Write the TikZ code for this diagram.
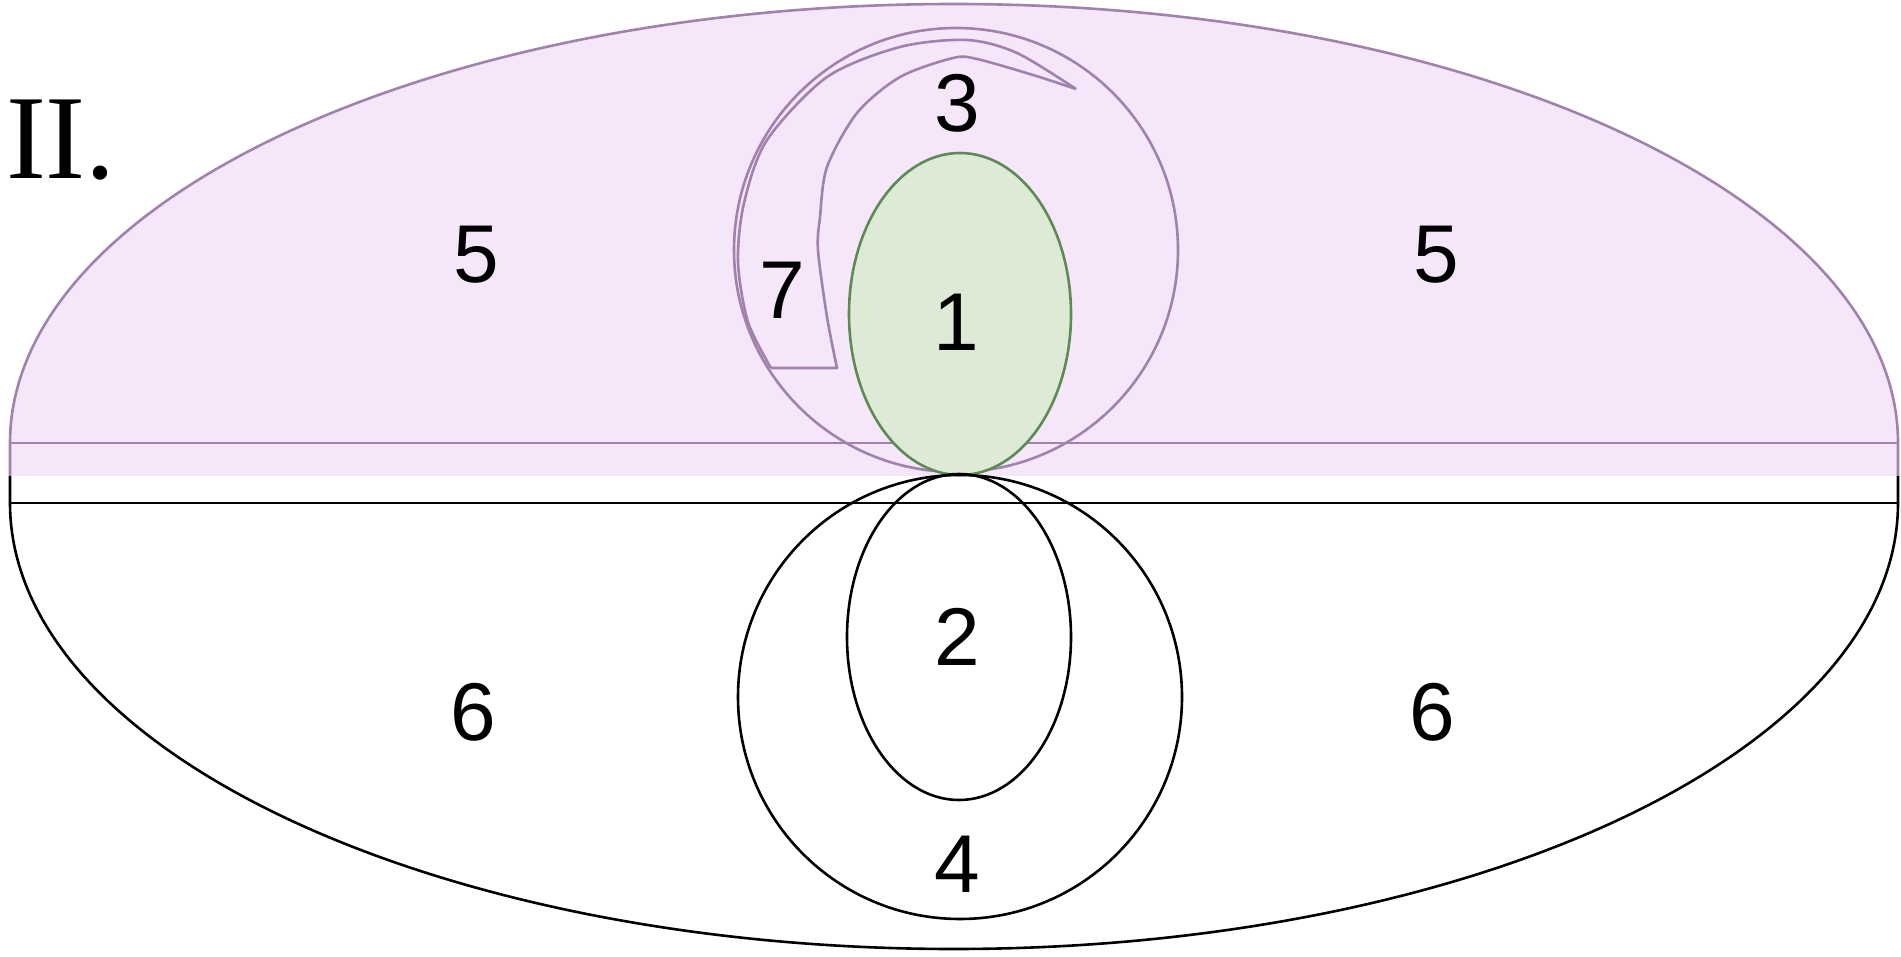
\documentclass[tikz,border=0pt]{standalone}
\usepackage{fontspec}
\setmainfont{Liberation Sans}
\newfontfamily\serifroman{Liberation Serif}
\definecolor{pfill}{HTML}{F5E6FA}
\definecolor{pline}{HTML}{A082AC}
\definecolor{gfill}{HTML}{DCEAD6}
\definecolor{gline}{HTML}{5F8A55}
\begin{document}
\begin{tikzpicture}[x=1pt,y=-1pt,
  lab/.style={font=\fontsize{82}{82}\selectfont, inner sep=0pt},
  pl/.style={draw=pline, line width=2.6pt},
  bl/.style={draw=black, line width=2.6pt}]
\useasboundingbox (0,0) rectangle (1901,957);
% upper purple half
\path[fill=pfill] (10,476) -- (10,443) arc[start angle=180,end angle=360,x radius=944,y radius=439] -- (1898,476) -- cycle;
\draw[pl] (10,476) -- (10,443) arc[start angle=180,end angle=360,x radius=944,y radius=439] -- (1898,476);
\draw[pl] (10,443) -- (1898,443);
% lower half
\draw[bl] (10,476) -- (10,503) arc[start angle=180,end angle=0,x radius=944,y radius=446] -- (1898,476);
\draw[bl] (10,503) -- (1898,503);
% circle 3 and spiral
\draw[pl] (956,250) circle[radius=222];
\draw[pl,line join=round] plot[smooth] coordinates {(1076,89) (1033,75) (977,59) (953,58) (900,77) (857,113) (827,167) (820,217) (818,250) (827,317) (837,368)}
  -- (771,368);
\draw[pl] plot[smooth] coordinates {(771,368) (748,322) (738,262) (744,203) (767,140) (827,77) (900,47) (967,40) (1017,53) (1076,89)};
% ellipse 1
\draw[fill=gfill, draw=gline, line width=2.6pt] (960,314) ellipse[x radius=111, y radius=161];
% circle 4 and ellipse 2
\draw[bl] (960,697) circle[radius=222];
\draw[bl] (959,637) ellipse[x radius=112, y radius=163];
% labels
\node[inner sep=0pt, font=\serifroman\fontsize{120}{120}\selectfont] (t) at (61,140) {II.};
\node[lab] (n1) at (956,322) {1};
\node[lab] (n2) at (957,637) {2};
\node[lab] (n3) at (957,103) {3};
\node[lab] (n4) at (957,864) {4};
\node[lab] (n5a) at (476,255) {5};
\node[lab] (n5b) at (1436,255) {5};
\node[lab] (n6a) at (473,712) {6};
\node[lab] (n6b) at (1432,712) {6};
\node[lab] (n7) at (782,290) {7};
\end{tikzpicture}
\end{document}
